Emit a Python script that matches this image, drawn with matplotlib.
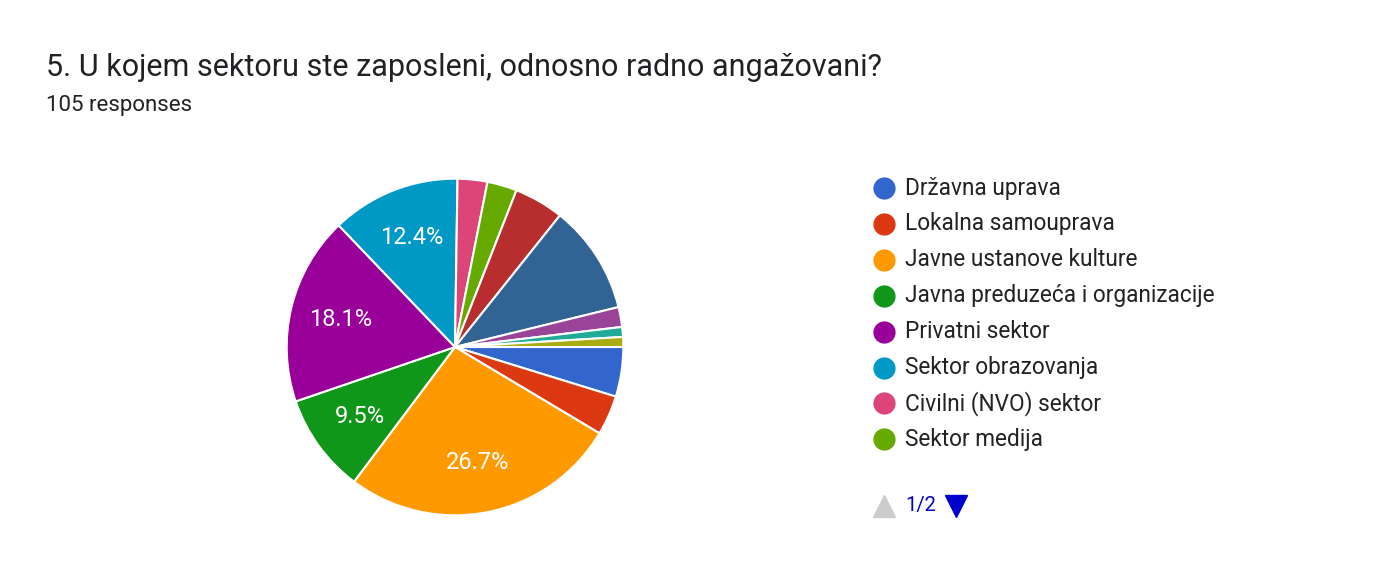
import matplotlib
matplotlib.use("Agg")
import matplotlib.pyplot as plt
import numpy as np

plt.rcParams['font.family'] = ['Roboto', 'DejaVu Sans']

title = "5. U kojem sektoru ste zaposleni, odnosno radno angažovani?"
subtitle = "105 responses"

categories = ["Državna uprava", "Lokalna samouprava", "Javne ustanove kulture",
              "Javna preduzeća i organizacije", "Privatni sektor", "Sektor obrazovanja",
              "Civilni (NVO) sektor", "Sektor medija",
              "Ostalo 1", "Ostalo 2", "Ostalo 3", "Ostalo 4", "Ostalo 5"]
counts = [5, 4, 28, 10, 19, 13, 3, 3, 5, 11, 2, 1, 1]
colors = ["#3366cc", "#dc3912", "#ff9900", "#109618", "#990099", "#0099c6",
          "#dd4477", "#66aa00", "#b82e2e", "#316395", "#994499", "#22aa99", "#aaaa11"]
shown_pct = ["Javne ustanove kulture", "Javna preduzeća i organizacije",
             "Privatni sektor", "Sektor obrazovanja"]
legend_count = 8
page_text = "1/2"

W, H = 1380, 581
fig = plt.figure(figsize=(W / 100, H / 100), dpi=100)

cx, cy, r = 455, 347, 170
ax = fig.add_axes([(cx - r) / W, (H - cy - r) / H, 2 * r / W, 2 * r / H])
total = sum(counts)

wedges, _ = ax.pie(counts, colors=colors, startangle=0, counterclock=False,
                   radius=1.0, wedgeprops=dict(edgecolor="white", linewidth=1.5))
ax.set_xlim(-1.01, 1.01)
ax.set_ylim(-1.01, 1.01)
ax.set_aspect("equal")
ax.axis("off")

for w, cat, c in zip(wedges, categories, counts):
    if cat in shown_pct:
        ang = np.deg2rad((w.theta1 + w.theta2) / 2)
        d = 0.70
        ax.text(d * np.cos(ang), d * np.sin(ang), f"{100 * c / total:.1f}%",
                ha="center", va="center", color="white", fontsize=17)

fig.text(46 / W, 1 - 68 / H, title, fontsize=22, color="#202124", va="center", ha="left")
fig.text(46 / W, 1 - 105 / H, subtitle, fontsize=16, color="#202124", va="center", ha="left")

y0, dy = 188, 35.9
for i in range(legend_count):
    y = y0 + i * dy
    fig.lines.append(plt.Line2D([884 / W], [1 - y / H], marker="o", markersize=15,
                                color=colors[i], linestyle="none", transform=fig.transFigure))
    fig.text(905 / W, 1 - y / H, categories[i], fontsize=16.3, color="#222222",
             va="center", ha="left")

yn = 506
fig.lines.append(plt.Line2D([884 / W], [1 - yn / H], marker="^", markersize=16,
                            color="#cccccc", linestyle="none", transform=fig.transFigure))
fig.text(905 / W, 1 - yn / H, page_text, fontsize=14.5, color="#0000cc", va="center", ha="left")
fig.lines.append(plt.Line2D([956 / W], [1 - yn / H], marker="v", markersize=16,
                            color="#0000cc", linestyle="none", transform=fig.transFigure))

fig.savefig("out.png", dpi=100, facecolor="white")
